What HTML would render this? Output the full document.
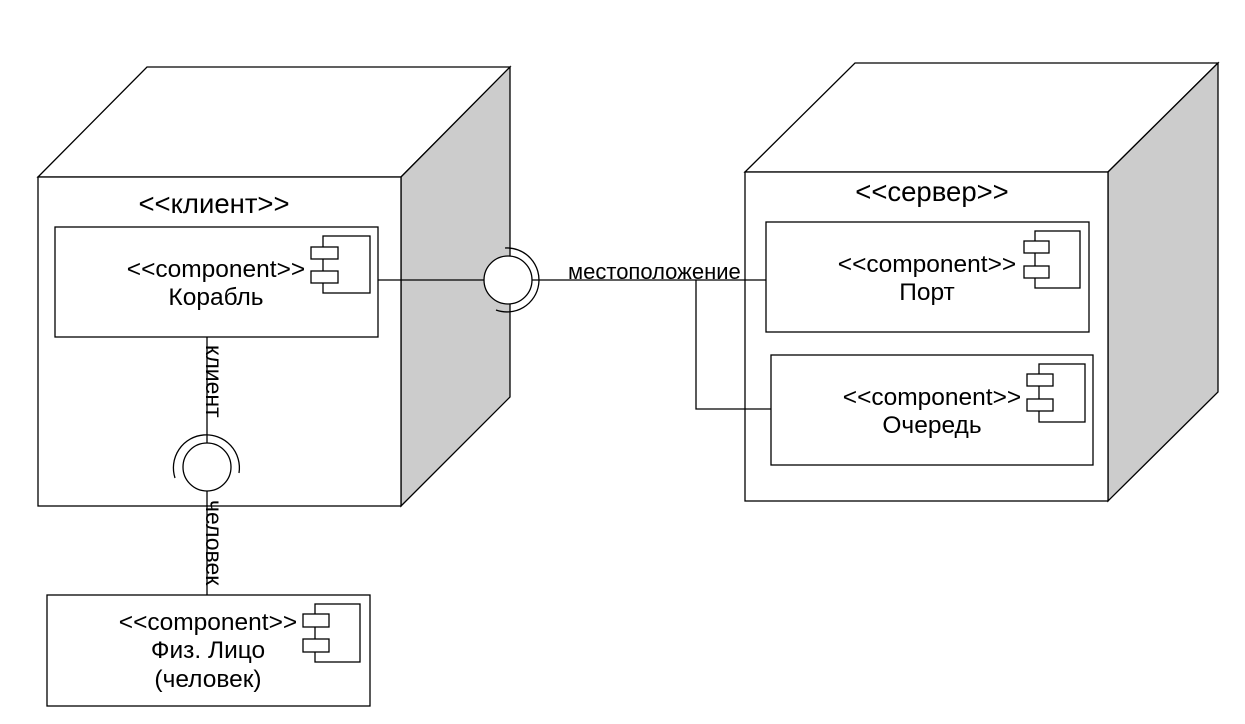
<!DOCTYPE html>
<html><head><meta charset="utf-8"><style>
html,body{margin:0;padding:0;background:#fff}
svg{display:block}
text{font-family:"Liberation Sans",sans-serif;fill:#000}
</style></head><body>
<svg width="1245" height="724" viewBox="0 0 1245 724" xmlns="http://www.w3.org/2000/svg">
<g stroke="#000" stroke-width="1.3" fill="none">
<polygon points="38,177 147,67 510,67 401,177" fill="#fff"/>
<polygon points="401,177 510,67 510,397 401,506" fill="#cccccc"/>
<rect x="38" y="177" width="363" height="329" fill="#fff"/>
<polygon points="745,172 855,63 1218,63 1108,172" fill="#fff"/>
<polygon points="1108,172 1218,63 1218,392 1108,501" fill="#cccccc"/>
<rect x="745" y="172" width="363" height="329" fill="#fff"/>

<line x1="378" y1="280" x2="484" y2="280"/>
<line x1="532" y1="280" x2="766" y2="280"/>
<polyline points="696,280 696,409 771,409"/>
<line x1="207" y1="337" x2="207" y2="443"/>
<line x1="207" y1="491" x2="207" y2="595"/>

<circle cx="508" cy="280" r="24" fill="#fff"/>
<path d="M505,248 A32,32 0 1 1 496,310"/>
<circle cx="207" cy="467" r="24" fill="#fff"/>
<path d="M175,478 A33,33 0 1 1 239,473"/>

<rect x="55" y="227" width="323" height="110" fill="#fff"/>
<rect x="323" y="236" width="47" height="57" fill="#fff"/>
<rect x="311" y="247" width="27" height="12" fill="#fff"/>
<rect x="311" y="271" width="27" height="12" fill="#fff"/>

<rect x="766" y="222" width="323" height="110" fill="#fff"/>
<rect x="1035" y="231" width="45" height="57" fill="#fff"/>
<rect x="1024" y="241" width="25" height="12" fill="#fff"/>
<rect x="1024" y="266" width="25" height="12" fill="#fff"/>

<rect x="771" y="355" width="322" height="110" fill="#fff"/>
<rect x="1039" y="364" width="46" height="58" fill="#fff"/>
<rect x="1027" y="374" width="26" height="12" fill="#fff"/>
<rect x="1027" y="399" width="26" height="12" fill="#fff"/>

<rect x="47" y="595" width="323" height="111" fill="#fff"/>
<rect x="315" y="604" width="45" height="58" fill="#fff"/>
<rect x="303" y="614" width="26" height="13" fill="#fff"/>
<rect x="303" y="639" width="26" height="13" fill="#fff"/>
</g>

<g font-size="27.5" text-anchor="middle">
<text x="214" y="213">&lt;&lt;клиент&gt;&gt;</text>
<text x="932" y="201">&lt;&lt;сервер&gt;&gt;</text>
</g>
<g font-size="24.5" text-anchor="middle">
<text x="216" y="277">&lt;&lt;component&gt;&gt;</text>
<text x="216" y="305">Корабль</text>
<text x="927" y="272">&lt;&lt;component&gt;&gt;</text>
<text x="927" y="300">Порт</text>
<text x="932" y="405">&lt;&lt;component&gt;&gt;</text>
<text x="932" y="433">Очередь</text>
<text x="208" y="630">&lt;&lt;component&gt;&gt;</text>
<text x="208" y="658">Физ. Лицо</text>
<text x="208" y="687">(человек)</text>
</g>
<text x="568" y="279" font-size="22">местоположение</text>
<text font-size="23" transform="translate(206,345) rotate(90)">клиент</text>
<text font-size="23" transform="translate(206,500) rotate(90)">человек</text>
</svg>
</body></html>
